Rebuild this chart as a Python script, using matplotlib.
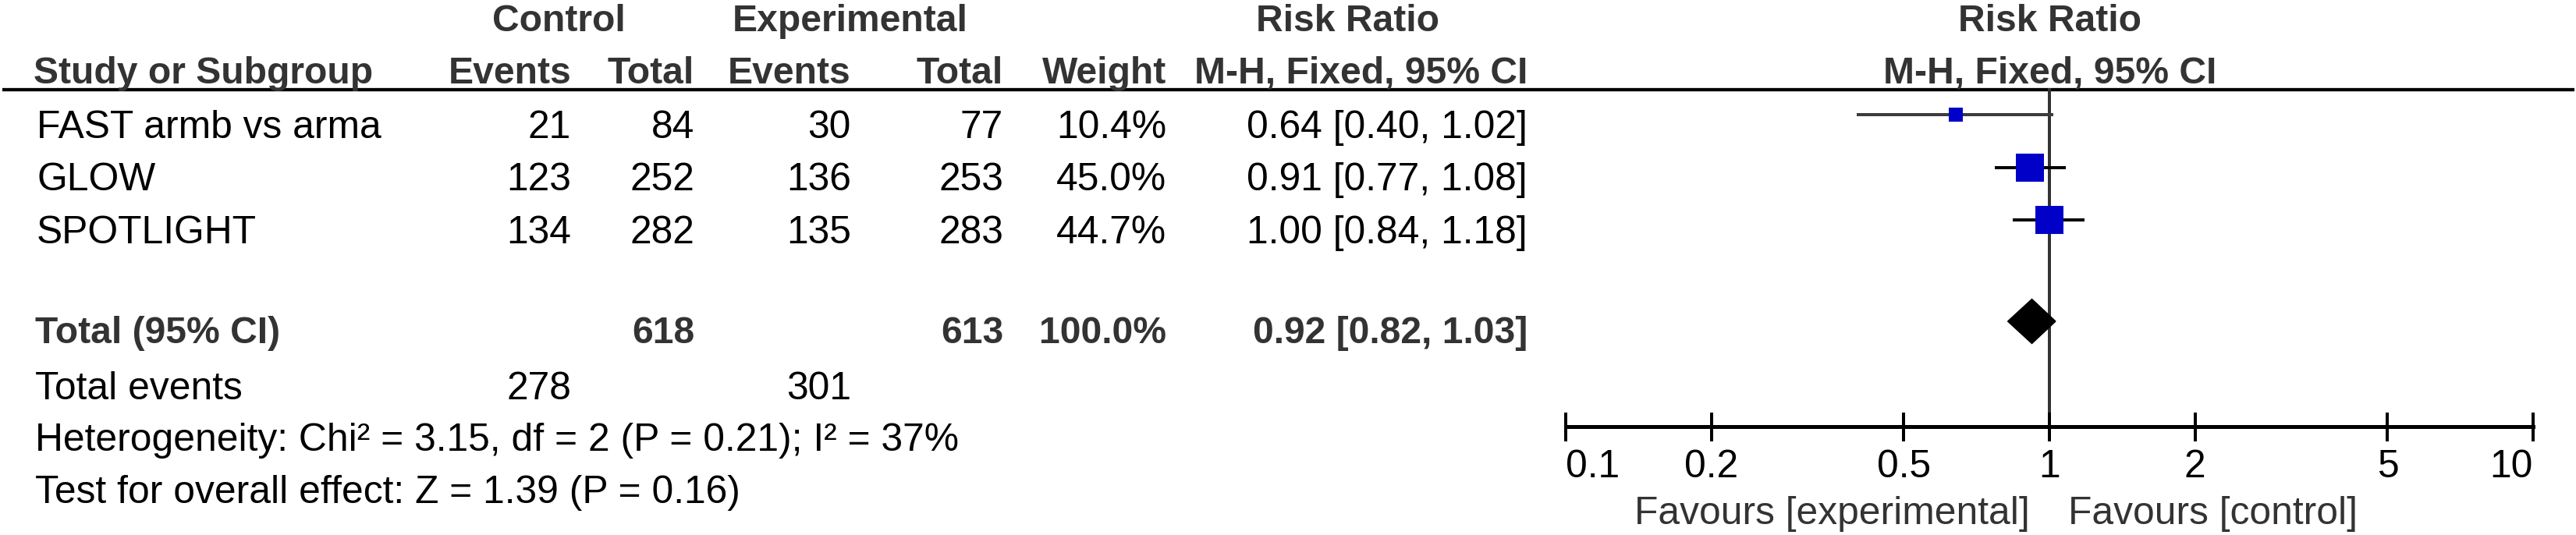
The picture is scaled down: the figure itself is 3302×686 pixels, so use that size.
import matplotlib
matplotlib.use("Agg")
import matplotlib.pyplot as plt
from matplotlib.patches import Polygon
from matplotlib.ticker import NullLocator

# ======================
# data
# ======================
studies = ["FAST armb vs arma", "GLOW", "SPOTLIGHT"]
ctrl_events = [21, 123, 134]
ctrl_total = [84, 252, 282]
exp_events = [30, 136, 135]
exp_total = [77, 253, 283]
weights = [10.4, 45.0, 44.7]
rr = [0.64, 0.91, 1.00]
ci_lo = [0.40, 0.77, 0.84]
ci_hi = [1.02, 1.08, 1.18]

total_ctrl = 618
total_exp = 613
total_ctrl_events = 278
total_exp_events = 301
total_weight = 100.0
total_rr = 0.92
total_lo = 0.82
total_hi = 1.03

heterogeneity = "Heterogeneity: Chi\u00b2 = 3.15, df = 2 (P = 0.21); I\u00b2 = 37%"
overall = "Test for overall effect: Z = 1.39 (P = 0.16)"

ticks = [0.1, 0.2, 0.5, 1, 2, 5, 10]
tick_labels = ["0.1", "0.2", "0.5", "1", "2", "5", "10"]
favours_left = "Favours [experimental]"
favours_right = "Favours [control]"

# ======================
# layout (pixels)
# ======================
W, H = 3302, 686
DPI = 100
PT = 72 / DPI  # points per pixel

plt.rcParams["font.family"] = ["Liberation Sans", "DejaVu Sans"]
FS = 35.8
FS_B = 34.6
HEAD = "#333333"

# column right edges
col_left = 45
c_ev, c_tot, e_ev, e_tot, c_w, c_rr = 732, 890, 1091, 1286, 1495, 1958

row0 = 177
row_h = 67.5
y_total = 440

fig = plt.figure(figsize=(W / DPI, H / DPI), dpi=DPI)
ax = fig.add_axes([0, 0, 1, 1])
ax.set_xlim(0, W)
ax.set_ylim(H, 0)
ax.axis("off")


def txt(x, y, s, ha="right", bold=False, color="black"):
    ax.text(x, y, s, ha=ha, va="baseline", fontsize=FS_B if bold else FS,
            fontweight="bold" if bold else "normal", color=color)


# header
txt(716, 40, "Control", ha="center", bold=True, color=HEAD)
txt(1090, 40, "Experimental", ha="center", bold=True, color=HEAD)
txt(1727, 40, "Risk Ratio", ha="center", bold=True, color=HEAD)
txt(2627, 40, "Risk Ratio", ha="center", bold=True, color=HEAD)

txt(43, 107, "Study or Subgroup", ha="left", bold=True, color=HEAD)
txt(c_ev, 107, "Events", bold=True, color=HEAD)
txt(c_tot, 107, "Total", bold=True, color=HEAD)
txt(e_ev, 107, "Events", bold=True, color=HEAD)
txt(e_tot, 107, "Total", bold=True, color=HEAD)
txt(c_w, 107, "Weight", bold=True, color=HEAD)
txt(c_rr, 107, "M-H, Fixed, 95% CI", bold=True, color=HEAD)
txt(2628, 107, "M-H, Fixed, 95% CI", ha="center", bold=True, color=HEAD)

ax.plot([3, 3300], [114.5, 114.5], color="black", lw=4.3 * PT,
        solid_capstyle="butt")

# study rows
row_y = [row0 + i * row_h for i in range(len(studies))]
for i, name in enumerate(studies):
    y = row_y[i]
    txt(col_left + 2, y, name, ha="left")
    txt(c_ev, y, str(ctrl_events[i]))
    txt(c_tot, y, str(ctrl_total[i]))
    txt(e_ev, y, str(exp_events[i]))
    txt(e_tot, y, str(exp_total[i]))
    txt(c_w, y, f"{weights[i]:.1f}%")
    txt(c_rr, y, f"{rr[i]:.2f} [{ci_lo[i]:.2f}, {ci_hi[i]:.2f}]")

# total row
txt(col_left, y_total, "Total (95% CI)", ha="left", bold=True, color=HEAD)
txt(c_tot, y_total, str(total_ctrl), bold=True, color=HEAD)
txt(e_tot, y_total, str(total_exp), bold=True, color=HEAD)
txt(c_w, y_total, f"{total_weight:.1f}%", bold=True, color=HEAD)
txt(c_rr, y_total, f"{total_rr:.2f} [{total_lo:.2f}, {total_hi:.2f}]",
    bold=True, color=HEAD)

txt(col_left, 512, "Total events", ha="left")
txt(c_ev, 512, str(total_ctrl_events))
txt(e_ev, 512, str(total_exp_events))
txt(col_left, 578, heterogeneity, ha="left")
txt(col_left, 645, overall, ha="left")

# ======================
# forest plot
# ======================
x0, x1 = 2007, 3247
fx = fig.add_axes([x0 / W, 0, (x1 - x0) / W, 1])
fx.set_xscale("log")
fx.set_xlim(ticks[0], ticks[-1])
fx.set_ylim(H, 0)
fx.patch.set_visible(False)
for s in ("left", "right", "top"):
    fx.spines[s].set_visible(False)
axis_y = 547
fx.spines["bottom"].set_position(("data", axis_y))
fx.spines["bottom"].set_linewidth(5 * PT)
fx.spines["bottom"].set_capstyle("projecting")
fx.set_yticks([])
fx.set_xticks(ticks)
fx.xaxis.set_minor_locator(NullLocator())
fx.tick_params(axis="x", direction="inout", length=37 * PT, width=4 * PT,
               color="black", labelbottom=False)

for t, lab in zip(ticks, tick_labels):
    ha = "left" if t == ticks[0] else ("right" if t == ticks[-1] else "center")
    fx.text(t, 612, lab, ha=ha, va="baseline", fontsize=FS)

fx.annotate(favours_left, xy=(1, 672), xytext=(-25 * PT, 0),
            textcoords="offset points", ha="right", va="baseline",
            fontsize=FS, color=HEAD)
fx.annotate(favours_right, xy=(1, 672), xytext=(24 * PT, 0),
            textcoords="offset points", ha="left", va="baseline",
            fontsize=FS, color=HEAD)

# line of no effect
fx.vlines(1, 113, axis_y, color="#333333", lw=4 * PT, zorder=1)

# CIs and squares, size from weight
max_w = max(weights)
line_colors = ["#3c3c3c", "black", "black"]
for i in range(len(studies)):
    y = row_y[i] - 30
    fx.hlines(y, ci_lo[i], ci_hi[i], color=line_colors[i], lw=4 * PT, zorder=2)
    side = 36 * (weights[i] / max_w) ** 0.5
    fx.plot(rr[i], y, marker="s", ms=side * PT, color="#0000c8", mew=0,
            linestyle="none", zorder=3)

# pooled diamond
yd = y_total - 28
fx.add_patch(Polygon([(total_lo, yd), (total_rr, yd - 28.5),
                      (total_hi, yd), (total_rr, yd + 28.5)],
                     closed=True, color="black", zorder=3))

fig.savefig("out.png", dpi=DPI)
